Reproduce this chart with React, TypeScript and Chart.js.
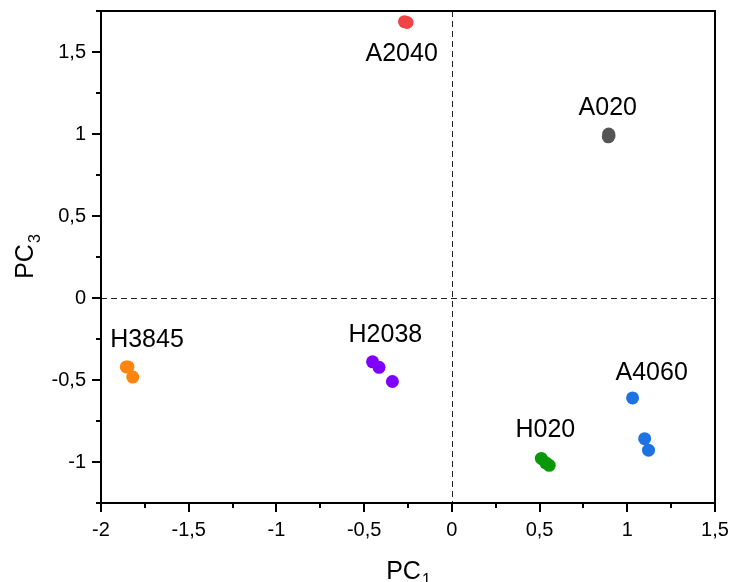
import React, { useEffect, useRef } from 'react';
import { Chart, registerables } from 'chart.js';

Chart.register(...registerables);

// ---- data ----
const xTitle = 'PC';
const xTitleSub = '1';
const yTitle = 'PC';
const yTitleSub = '3';

const xMin = -2;
const xMax = 1.5;
const yMin = -1.25;
const yMax = 1.75;
const tickStep = 0.25;

const groupNames = ['A2040', 'A020', 'H3845', 'H2038', 'A4060', 'H020'];
const groupColors = ['#F24444', '#555555', '#FF8410', '#8000FF', '#1E73E3', '#089808'];

const a2040X = [-0.27, -0.255];
const a2040Y = [1.685, 1.68];
const a020X = [0.894, 0.896, 0.892];
const a020Y = [1.0, 0.99, 0.983];
const h3845X = [-1.856, -1.846, -1.819];
const h3845Y = [-0.42, -0.42, -0.482];
const h2038X = [-0.452, -0.415, -0.339];
const h2038Y = [-0.389, -0.423, -0.509];
const a4060X = [1.03, 1.099, 1.121];
const a4060Y = [-0.609, -0.858, -0.928];
const h020X = [0.51, 0.535, 0.555];
const h020Y = [-0.978, -1.005, -1.02];

// label anchor positions (data units, text centre)
const labelX = [-0.286, 0.889, -1.738, -0.379, 1.139, 0.533];
const labelY = [1.49, 1.16, -0.256, -0.228, -0.455, -0.806];

const seriesX = [a2040X, a020X, h3845X, h2038X, a4060X, h020X];
const seriesY = [a2040Y, a020Y, h3845Y, h2038Y, a4060Y, h020Y];

const FONT = '"Liberation Sans", Arial, sans-serif';

const isMajor = (v: number) => Math.abs(v * 2 - Math.round(v * 2)) < 1e-6;
const fmt = (v: number) => {
  const r = Math.round(v * 100) / 100;
  return String(r).replace('.', ',');
};

const decorPlugin = {
  id: 'decor',
  beforeDatasetsDraw(chart: any) {
    const { ctx, chartArea, scales } = chart;
    const x0 = scales.x.getPixelForValue(0);
    const y0 = scales.y.getPixelForValue(0);
    ctx.save();
    ctx.strokeStyle = '#222';
    ctx.lineWidth = 1;
    ctx.setLineDash([6, 4]);
    ctx.beginPath();
    ctx.moveTo(Math.round(x0) + 0.5, chartArea.top);
    ctx.lineTo(Math.round(x0) + 0.5, chartArea.bottom);
    ctx.moveTo(chartArea.left, Math.round(y0) + 0.5);
    ctx.lineTo(chartArea.right, Math.round(y0) + 0.5);
    ctx.stroke();
    ctx.restore();
  },
  afterDatasetsDraw(chart: any) {
    const { ctx, chartArea, scales } = chart;
    const sx = scales.x;
    const sy = scales.y;
    ctx.save();
    // frame
    ctx.strokeStyle = '#000';
    ctx.lineWidth = 2;
    ctx.setLineDash([]);
    ctx.strokeRect(chartArea.left, chartArea.top, chartArea.right - chartArea.left, chartArea.bottom - chartArea.top);
    // ticks
    ctx.beginPath();
    sx.ticks.forEach((t: any) => {
      const px = Math.round(sx.getPixelForValue(t.value));
      const len = isMajor(t.value) ? 9 : 5;
      ctx.moveTo(px, chartArea.bottom);
      ctx.lineTo(px, chartArea.bottom + len);
    });
    sy.ticks.forEach((t: any) => {
      const py = Math.round(sy.getPixelForValue(t.value));
      const len = isMajor(t.value) ? 9 : 5;
      ctx.moveTo(chartArea.left, py);
      ctx.lineTo(chartArea.left - len, py);
    });
    ctx.stroke();

    // group labels
    ctx.fillStyle = '#000';
    ctx.font = `25px ${FONT}`;
    ctx.textAlign = 'center';
    ctx.textBaseline = 'middle';
    groupNames.forEach((name, i) => {
      ctx.fillText(name, sx.getPixelForValue(labelX[i]), sy.getPixelForValue(labelY[i]));
    });

    // axis titles with subscripts
    const mainFont = `25px ${FONT}`;
    const subFont = `16px ${FONT}`;
    ctx.textBaseline = 'alphabetic';
    ctx.textAlign = 'left';
    // x title
    ctx.font = mainFont;
    const wMain = ctx.measureText(xTitle).width;
    ctx.font = subFont;
    const wSub = ctx.measureText(xTitleSub).width;
    const cx = (chartArea.left + chartArea.right) / 2;
    const startX = cx - (wMain + wSub) / 2;
    ctx.font = mainFont;
    ctx.fillText(xTitle, startX, 579);
    ctx.font = subFont;
    ctx.fillText(xTitleSub, startX + wMain + 1, 585);
    // y title
    ctx.save();
    const cy = (chartArea.top + chartArea.bottom) / 2;
    ctx.translate(33, cy);
    ctx.rotate(-Math.PI / 2);
    ctx.font = mainFont;
    const wMainY = ctx.measureText(yTitle).width;
    ctx.font = subFont;
    const wSubY = ctx.measureText(yTitleSub).width;
    const sY = -(wMainY + wSubY) / 2;
    ctx.font = mainFont;
    ctx.fillText(yTitle, sY, 0);
    ctx.font = subFont;
    ctx.fillText(yTitleSub, sY + wMainY + 1, 7);
    ctx.restore();

    ctx.restore();
  },
};

export default function App() {
  const ref = useRef<HTMLCanvasElement | null>(null);

  useEffect(() => {
    document.body.style.margin = '0';
    const canvas = ref.current;
    if (!canvas) return;
    const datasets = groupNames.map((name, i) => ({
      label: name,
      data: seriesX[i].map((x, j) => ({ x, y: seriesY[i][j] })),
      backgroundColor: groupColors[i],
      borderColor: groupColors[i],
      borderWidth: 0,
      pointRadius: 6.5,
      pointHoverRadius: 6.5,
    }));
    const chart = new Chart(canvas, {
      type: 'scatter',
      data: { datasets },
      options: {
        animation: false,
        responsive: false,
        maintainAspectRatio: false,
        events: [],
        layout: { padding: { left: 0, right: 17, top: 11, bottom: 0 } },
        plugins: {
          legend: { display: false },
          tooltip: { enabled: false },
        },
        scales: {
          x: {
            type: 'linear',
            min: xMin,
            max: xMax,
            grid: { display: false, drawTicks: false },
            border: { display: false },
            ticks: {
              stepSize: tickStep,
              autoSkip: false,
              maxRotation: 0,
              minRotation: 0,
              padding: 15,
              color: '#000',
              font: { family: FONT, size: 20 },
              callback: (v: any) => (isMajor(Number(v)) ? fmt(Number(v)) : ''),
            },
            afterFit: (axis: any) => {
              axis.height = 79;
              axis.paddingLeft = 0;
              axis.paddingRight = 0;
            },
          },
          y: {
            type: 'linear',
            min: yMin,
            max: yMax,
            grid: { display: false, drawTicks: false },
            border: { display: false },
            ticks: {
              stepSize: tickStep,
              autoSkip: false,
              padding: 15,
              color: '#000',
              font: { family: FONT, size: 20 },
              callback: (v: any) => (isMajor(Number(v)) ? fmt(Number(v)) : ''),
            },
            afterFit: (axis: any) => {
              axis.width = 101;
              axis.paddingTop = 0;
              axis.paddingBottom = 0;
            },
          },
        },
      },
      plugins: [decorPlugin],
    });
    return () => chart.destroy();
  }, []);

  return (
    <div style={{ width: 732, height: 582 }}>
      <canvas ref={ref} width={732} height={582} style={{ display: 'block', width: 732, height: 582 }} />
    </div>
  );
}
